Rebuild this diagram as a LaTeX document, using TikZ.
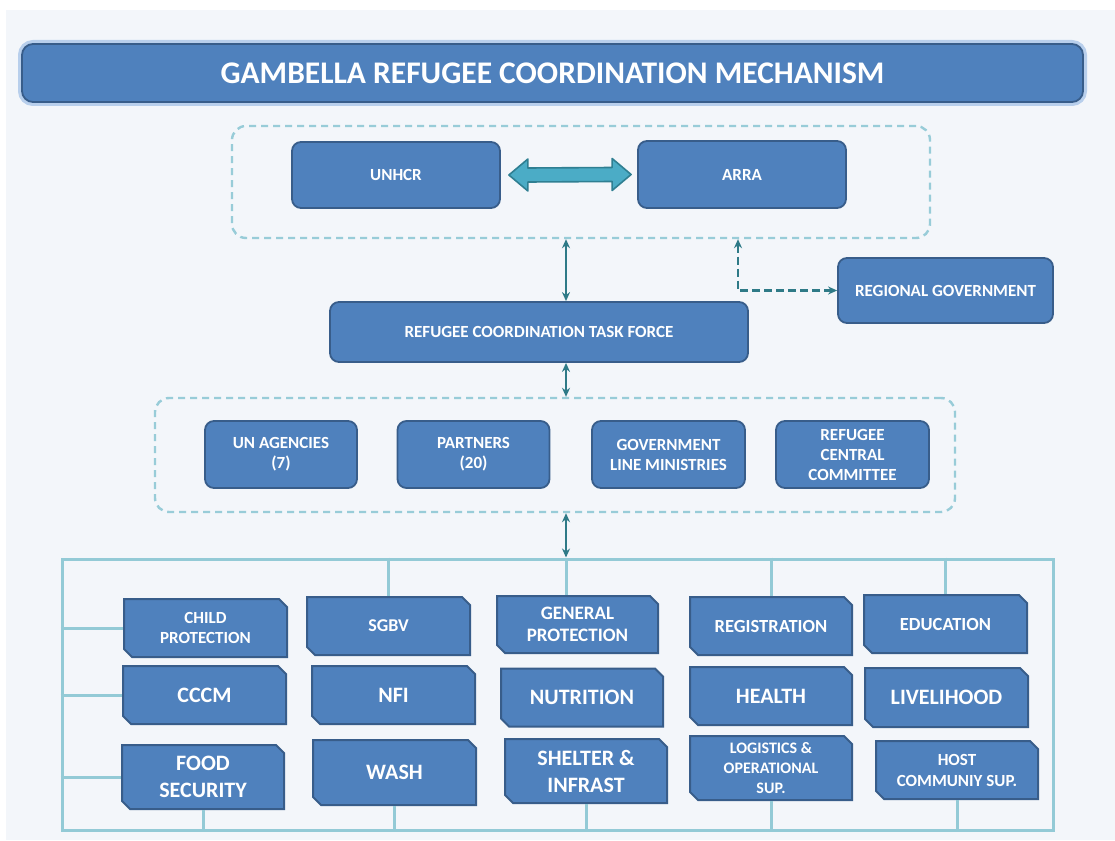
\documentclass[tikz,border=0pt]{standalone}
\usepackage{fontspec}
\setmainfont{Carlito}
\usetikzlibrary{arrows.meta, shapes.misc, calc}

\definecolor{paper}{HTML}{F3F6FA}
\definecolor{boxblue}{HTML}{4F81BD}
\definecolor{boxedge}{HTML}{385D8A}
\definecolor{glow}{HTML}{B8CFEC}
\definecolor{grpline}{HTML}{98CCD8}
\definecolor{frameline}{HTML}{93CAD6}
\definecolor{linkteal}{HTML}{2E7A87}
\definecolor{arrowfill}{HTML}{4BACC6}
\definecolor{arrowedge}{HTML}{2F7F92}

\tikzset{
  sz/.style 2 args={font=\bfseries\fontsize{#1}{#2}\selectfont},
  unit/.style={draw=boxedge, fill=boxblue, line width=1.8pt, rounded corners=9pt,
    text=white, align=center, inner sep=2pt, sz={17}{20}},
  header/.style={unit, rounded corners=11pt, preaction={draw=glow, line width=8pt}, sz={31.5}{36}},
  group/.style={draw=grpline, line width=2.4pt, dash pattern=on 7pt off 5pt, rounded corners=14pt},
  cluster/.style={chamfered rectangle, chamfered rectangle corners={north east, south west},
    chamfered rectangle xsep=4pt, chamfered rectangle ysep=4pt,
    draw=boxedge, fill=boxblue, line width=2pt, text=white, align=center, inner sep=2pt},
  frame/.style={draw=frameline, line width=3pt, inner sep=0pt},
  tick/.style={draw=frameline, line width=3pt},
  link/.style={draw=linkteal, line width=2.3pt},
  dlink/.style={draw=linkteal, line width=2.6pt, dash pattern=on 8pt off 4pt},
  bigarrow/.style={draw=arrowedge, fill=arrowfill, line width=1.6pt, line join=round}
}

\begin{document}
\begin{tikzpicture}[x=1pt, y=-1pt, >={Stealth[length=9pt, width=8pt]}]
  \useasboundingbox (0,0) rectangle (1115,840);
  \fill[paper] (6,10) rectangle (1115,840);

  \node[header, minimum width=1061, minimum height=58] (title) at (552.5,73) {GAMBELLA REFUGEE COORDINATION MECHANISM};

  \node[group, minimum width=698, minimum height=112] (top) at (581,182) {};
  \node[unit, minimum width=208, minimum height=66] (unhcr) at (396,175) {UNHCR};
  \node[unit, minimum width=208, minimum height=67] (arra) at (742,174.5) {ARRA};

  \coordinate (ba1) at ($(unhcr.east)+(8,0)$);
  \coordinate (ba2) at ($(arra.west)+(-6,0)$);
  \draw[bigarrow] (ba1) -- ++(19,-16) -- ++(0,9) -- ($(ba2)+(-19,-7)$) -- ++(0,-9) -- (ba2)
    -- ++(-19,16) -- ++(0,-9) -- ($(ba1)+(19,7)$) -- ++(0,9) -- cycle;

  \node[unit, minimum width=418, minimum height=60] (rctf) at (539,332) {REFUGEE COORDINATION TASK FORCE};
  \node[unit, minimum width=215, minimum height=65] (regional) at (945.5,290.5) {REGIONAL GOVERNMENT};

  \coordinate (spine) at (566,0);
  \draw[link, <->] (top.south -| spine) -- (rctf.north -| spine);
  \draw[dlink, <->] ($(top.south -| arra)+(-4,0)$) |- (regional.west);

  \node[group, minimum width=800, minimum height=114] (forum) at (555,455) {};
  \node[unit, minimum width=152, minimum height=67] (unag) at (281,454.5) {UN AGENCIES\\(7)};
  \node[unit, minimum width=152, minimum height=67] (partners) at (473.5,454.5) {PARTNERS\\(20)};
  \node[unit, minimum width=153, minimum height=67] (govmin) at (668.5,454.5) {GOVERNMENT\\LINE MINISTRIES};
  \node[unit, minimum width=153, minimum height=67] (rcc) at (852.5,454.5) {REFUGEE\\CENTRAL\\COMMITTEE};
  \draw[link, <->] (rctf.south -| spine) -- (forum.north -| spine);

  \node[frame, minimum width=991, minimum height=271] (sectors) at (557.5,694.5) {};
  \draw[link, <->] (forum.south -| spine) -- (sectors.north -| spine);

  \node[cluster, minimum width=163, minimum height=58, sz={17}{20}] (child) at (205.5,628) {CHILD\\PROTECTION};
  \node[cluster, minimum width=163, minimum height=58, sz={18}{21}] (sgbv) at (388.5,626) {SGBV};
  \node[cluster, minimum width=161, minimum height=57, sz={19}{22}] (genprot) at (577.5,624.5) {GENERAL\\PROTECTION};
  \node[cluster, minimum width=162, minimum height=58, sz={18.5}{22}] (regis) at (771,626) {REGISTRATION};
  \node[cluster, minimum width=163, minimum height=58, sz={18.5}{22}] (educ) at (945.5,624) {EDUCATION};

  \node[cluster, minimum width=163, minimum height=58, sz={22}{26}] (cccm) at (204.5,695) {CCCM};
  \node[cluster, minimum width=163, minimum height=58, sz={22}{26}] (nfi) at (393.5,695) {NFI};
  \node[cluster, minimum width=162, minimum height=58, sz={22}{26}] (nutri) at (582,697.5) {NUTRITION};
  \node[cluster, minimum width=162, minimum height=58, sz={22}{26}] (health) at (771,696) {HEALTH};
  \node[cluster, minimum width=163, minimum height=59, sz={22}{26}] (liveli) at (946.5,697.5) {LIVELIHOOD};

  \node[cluster, minimum width=162, minimum height=64, sz={22}{27}] (food) at (203,777) {FOOD\\SECURITY};
  \node[cluster, minimum width=163, minimum height=65, sz={22}{27}] (wash) at (394.5,772.5) {WASH};
  \node[cluster, minimum width=162, minimum height=64, sz={22}{27}] (shelter) at (586,771) {SHELTER \&\\INFRAST};
  \node[cluster, minimum width=162, minimum height=64, sz={16}{20}] (logis) at (771,768) {LOGISTICS \&\\OPERATIONAL\\SUP.};
  \node[cluster, minimum width=162, minimum height=58, sz={17}{21}] (host) at (957,770) {HOST\\COMMUNIY SUP.};

  \draw[tick] (sectors.north -| sgbv.north) -- (sgbv.north);
  \draw[tick] (sectors.north -| spine) -- (genprot.north -| spine);
  \draw[tick] (sectors.north -| regis.north) -- (regis.north);
  \draw[tick] (sectors.north -| educ.north) -- (educ.north);
  \draw[tick] (sectors.west |- child.west) -- (child.west);
  \draw[tick] (sectors.west |- cccm.west) -- (cccm.west);
  \draw[tick] (sectors.west |- food.west) -- (food.west);
  \draw[tick] (food.south) -- (food.south |- sectors.south);
  \draw[tick] (wash.south) -- (wash.south |- sectors.south);
  \draw[tick] (shelter.south) -- (shelter.south |- sectors.south);
  \draw[tick] (logis.south) -- (logis.south |- sectors.south);
  \draw[tick] (host.south) -- (host.south |- sectors.south);
\end{tikzpicture}
\end{document}
